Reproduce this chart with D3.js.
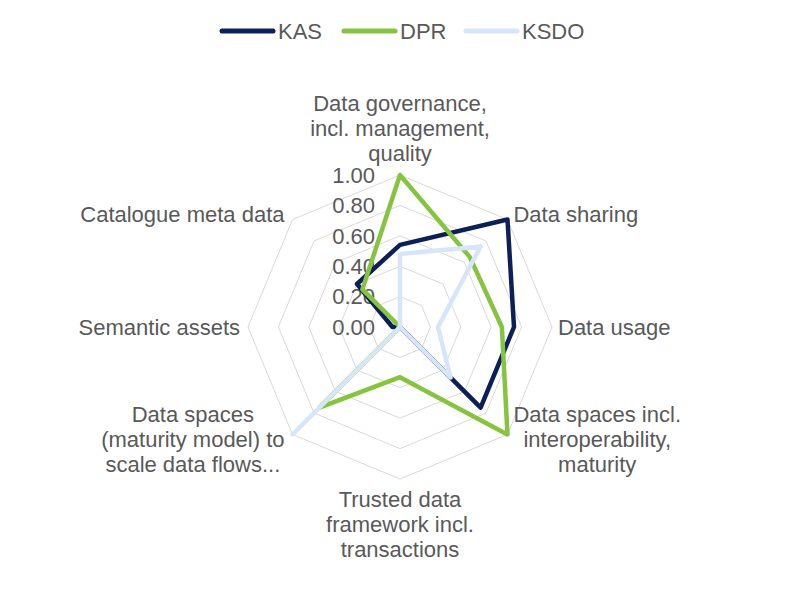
<!DOCTYPE html>
<html>
<head>
<meta charset="utf-8">
<script src="https://cdn.jsdelivr.net/npm/d3@7"></script>
<style>
  body { margin: 0; background: #fff; }
  svg { font-family: "Liberation Sans", Arial, sans-serif; }
</style>
</head>
<body>
<svg id="radar" width="800" height="600"></svg>
<script>
// axis labels, clockwise from the top, one entry per text line
const categories = [
  ["Data governance,", "incl. management,", "quality"],
  ["Data sharing"],
  ["Data usage"],
  ["Data spaces incl.", "interoperability,", "maturity"],
  ["Trusted data", "framework incl.", "transactions"],
  ["Data spaces", "(maturity model) to", "scale data flows..."],
  ["Semantic assets"],
  ["Catalogue meta data"]
];
const seriesNames = ["KAS", "DPR", "KSDO"];
const kasValues = [0.54, 1.0, 0.75, 0.75, 0, 0, 0.05, 0.40];
const dprValues = [1.0, 0.65, 0.67, 1.0, 0.33, 0.75, 0, 0.35];
const ksdoValues = [0.48, 0.75, 0.25, 0.47, 0, 1.0, 0, 0];
const ticks = [0, 0.2, 0.4, 0.6, 0.8, 1.0];

const colors = { KAS: "#0d1f58", DPR: "#86c440", KSDO: "#d6e5f8" };
const textColor = "#595959";

const svg = d3.select("#radar");
const cx = 400, cy = 327, radius = 152;
const fontSize = 22;
const lineHeight = 25;

const r = d3.scaleLinear().domain([0, 1]).range([0, radius]);
const angle = d3.scalePoint()
  .domain(d3.range(categories.length + 1))
  .range([0, 2 * Math.PI]);

const g = svg.append("g").attr("transform", `translate(${cx},${cy})`);

// grid rings (octagons)
const ring = d3.lineRadial()
  .angle((d, i) => angle(i))
  .radius(d => r(d))
  .curve(d3.curveLinearClosed);

g.selectAll(".ring")
  .data(ticks.slice(1))
  .enter().append("path")
  .attr("class", "ring")
  .attr("d", v => ring(categories.map(() => v)))
  .attr("fill", "none")
  .attr("stroke", "#d9d9d9")
  .attr("stroke-width", 1);

// tick labels
g.selectAll(".tick-label")
  .data(ticks)
  .enter().append("text")
  .attr("class", "tick-label")
  .attr("x", -25)
  .attr("y", d => -r(d))
  .attr("dy", "0.35em")
  .attr("text-anchor", "end")
  .attr("font-size", fontSize)
  .attr("fill", textColor)
  .text(d => d3.format(".2f")(d));

// category labels
categories.forEach((lines, i) => {
  const a = angle(i);
  const s = Math.sin(a), c = Math.cos(a);
  const vx = r(1) * s, vy = -r(1) * c;

  const label = g.append("text")
    .attr("font-size", fontSize)
    .attr("fill", textColor)
    .attr("text-anchor", "middle");
  const spans = lines.map((t, k) => label.append("tspan")
    .attr("dy", k === 0 ? 0 : lineHeight)
    .text(t));
  const blockW = d3.max(spans, sp => sp.node().getComputedTextLength());
  const blockH = (lines.length - 1) * lineHeight;

  let bx, by;
  if (Math.abs(s) < 0.01) {
    bx = vx;
    by = c > 0 ? vy - blockH / 2 - 22 : vy + blockH / 2 + 20;
  } else {
    bx = s > 0 ? vx + 6 + blockW / 2 : vx - 8 - blockW / 2;
    by = vy - 7 * c;
  }
  const top = by - blockH / 2;
  spans.forEach((sp, k) => sp.attr("x", bx).attr("y", top + k * lineHeight).attr("dy", "0.35em"));
});

// series
const series = [
  { name: "KAS", values: kasValues },
  { name: "DPR", values: dprValues },
  { name: "KSDO", values: ksdoValues }
];

const line = d3.lineRadial()
  .angle((d, i) => angle(i))
  .radius(d => r(d))
  .curve(d3.curveLinearClosed);

g.selectAll(".series")
  .data(series)
  .enter().append("path")
  .attr("class", "series")
  .attr("d", d => line(d.values))
  .attr("fill", "none")
  .attr("stroke", d => colors[d.name])
  .attr("stroke-width", 4.5)
  .attr("stroke-linejoin", "round");

// legend
const legendX = d3.scalePoint().domain(seriesNames).range([222, 466]);
const legend = svg.append("g").attr("transform", "translate(0,31)");
const item = legend.selectAll(".legend-item")
  .data(seriesNames)
  .enter().append("g")
  .attr("class", "legend-item")
  .attr("transform", d => `translate(${legendX(d)},0)`);

item.append("line")
  .attr("x1", 0).attr("x2", 51)
  .attr("stroke", d => colors[d])
  .attr("stroke-width", 5)
  .attr("stroke-linecap", "round");

item.append("text")
  .attr("x", 56)
  .attr("dy", "0.35em")
  .attr("font-size", fontSize)
  .attr("fill", textColor)
  .text(d => d);
</script>
</body>
</html>
